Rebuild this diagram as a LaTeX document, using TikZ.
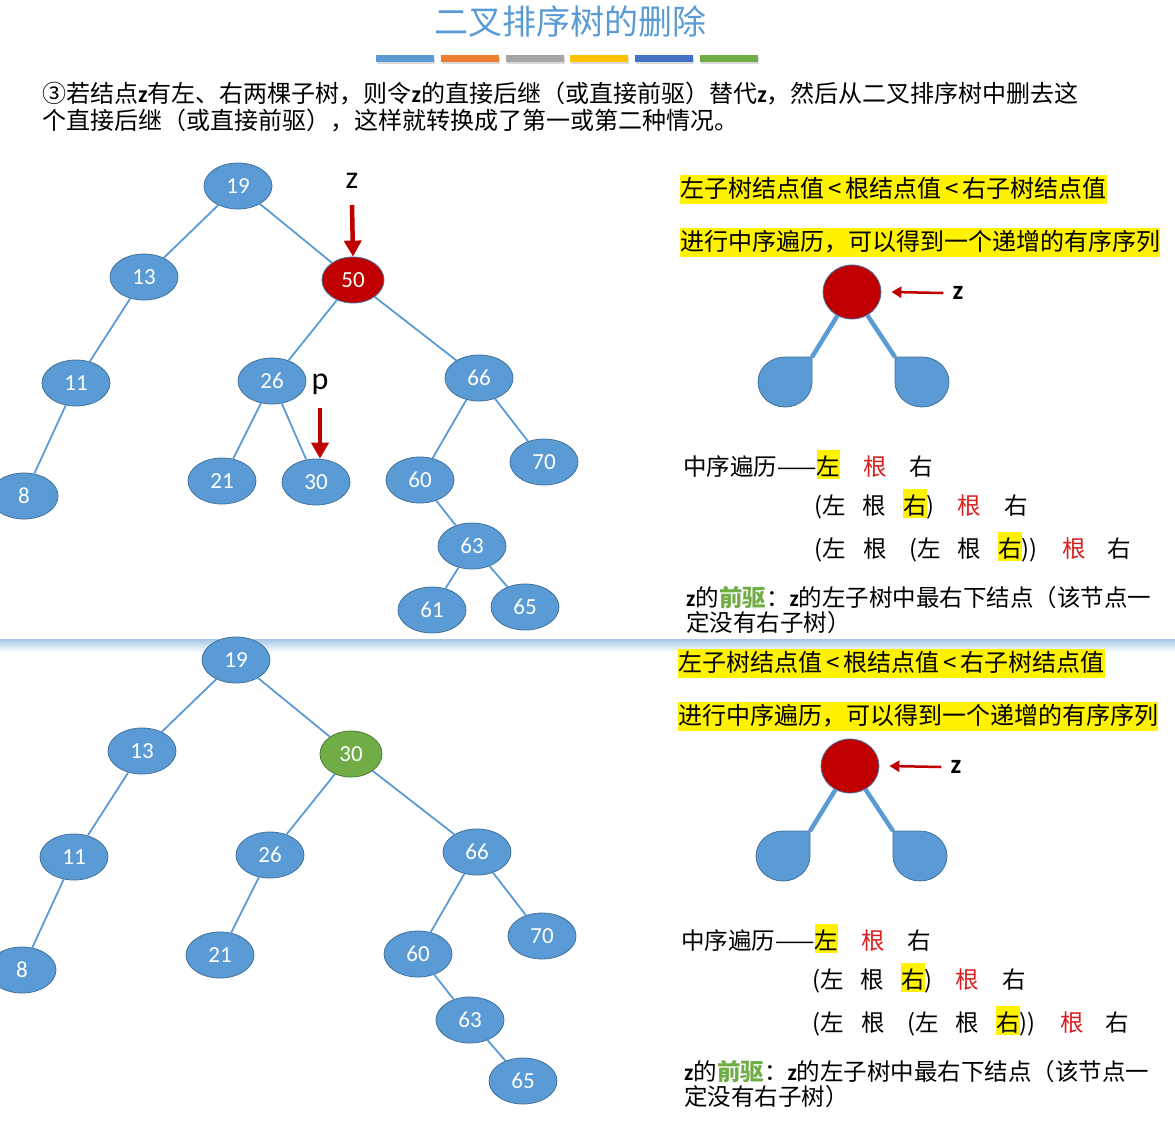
\documentclass[tikz,border=0pt]{standalone}
\usepackage{fontspec}
\setmainfont{Noto Sans CJK SC}
\newfontfamily\lat{Carlito}
\usetikzlibrary{positioning, arrows.meta, shapes.geometric, shadows}

\definecolor{nodeblue}{HTML}{5B9BD5}
\definecolor{nodeedge}{HTML}{41719C}
\definecolor{delred}{HTML}{C00000}
\definecolor{succgreen}{HTML}{70AD47}
\definecolor{barorange}{HTML}{ED7D31}
\definecolor{bargray}{HTML}{A5A5A5}
\definecolor{bargold}{HTML}{FFC000}
\definecolor{bardark}{HTML}{4472C4}
\definecolor{rootred}{HTML}{D81E1E}

\newcommand{\bodysize}{\fontsize{23.5}{27}\selectfont}
\newcommand{\marktxt}[1]{{\fboxsep=0pt\colorbox{yellow}{\rule[-4pt]{0pt}{29pt}#1}}}

\tikzset{
  treenode/.style={ellipse, draw=nodeedge, line width=0.8pt, fill=nodeblue,
    minimum width=68pt, minimum height=46pt, inner sep=0pt, text=white,
    font=\lat\fontsize{23}{23}\selectfont},
  delnode/.style={treenode, fill=delred, minimum width=62pt},
  succnode/.style={treenode, fill=succgreen, draw=succgreen!70!black, minimum width=62pt},
  branch/.style={nodeblue, line width=1.8pt},
  pointer/.style={delred, line width=4.5pt, -{Triangle[width=17pt,length=16pt]}},
  zpointer/.style={delred, line width=2.5pt, -{Triangle[width=11pt,length=10pt]}},
  hlband/.style={fill=yellow, inner sep=0pt, text height=22pt, text depth=7pt,
    font=\fontsize{24}{28}\selectfont},
  walktext/.style={anchor=base west, inner sep=0pt, font=\bodysize},
  marklbl/.style={font=\lat\fontsize{32}{32}\selectfont, inner sep=0pt},
  stem/.style={nodeblue, line width=4.5pt},
  leaf/.style={fill=nodeblue, draw=nodeedge, line width=0.8pt},
}

% right-hand explanation panel, #1 = name prefix
\newcommand{\orderpanel}[1]{%
  \node[hlband, anchor=base west] (#1law) at (680,197)
    {左子树结点值\hspace{4pt}<\hspace{4pt}根结点值\hspace{4pt}<\hspace{4pt}右子树结点值};
  \node[hlband, anchor=base west] (#1walk) at (680,250)
    {进行中序遍历，可以得到一个递增的有序序列};

  \node[ellipse, fill=delred, draw=nodeedge, line width=0.8pt,
    minimum width=58pt, minimum height=54pt] (#1root) at (852,292) {};
  \node[font=\lat\bfseries\fontsize{27}{27}\selectfont, inner sep=0pt] (#1zmark) at (958,293) {z};
  \draw[zpointer] ([xshift=-9pt]#1zmark.west) -- ([xshift=10pt]#1root.east);

  \coordinate (#1lcorner) at (812,357);
  \coordinate (#1rcorner) at (895,357);
  \draw[stem] (#1root) -- (#1lcorner);
  \draw[stem] (#1root) -- (#1rcorner);
  \filldraw[leaf] (#1lcorner) -- (785,357)
    arc[start angle=270, end angle=0, x radius=27, y radius=25] -- cycle;
  \filldraw[leaf] (#1rcorner) -- (922,357)
    arc[start angle=270, end angle=540, x radius=27, y radius=25] -- cycle;

  \node[walktext] (#1line1) at (683,475)
    {中序遍历——\marktxt{左}\hspace{23pt}{\color{rootred}根}\hspace{23pt}右};
  \node[walktext] (#1line2) at (814,514)
    {(左\hspace{17pt}根\hspace{17pt}\marktxt{右})\hspace{23pt}{\color{rootred}根}\hspace{23pt}右};
  \node[walktext] (#1line3) at (814,557)
    {(左\hspace{18pt}根\hspace{22pt}(左\hspace{17pt}根\hspace{17pt}\marktxt{右}))\hspace{25pt}{\color{rootred}根}\hspace{22pt}右};
  \node[walktext] (#1pred) at (686,606)
    {{\lat\bfseries z}的{\bfseries\color{succgreen}前驱}：{\lat\bfseries z}的左子树中最右下结点（该节点一};
  \node[walktext] (#1predb) at (686,631) {定没有右子树）};
}

\begin{document}
\begin{tikzpicture}[x=1pt, y=-1pt]
  \useasboundingbox (0,0) rectangle (1175,1125);

  % header
  \node[font=\fontsize{34}{34}\selectfont, text=nodeblue] (title) at (570,22) {二叉排序树的删除};
  \foreach \c [count=\i from 0] in {nodeblue, barorange, bargray, bargold, bardark, succgreen}
    \fill[\c, drop shadow={shadow xshift=1pt, shadow yshift=-1.5pt, opacity=.3}]
      (376+64.8*\i,55) rectangle ++(58,7);

  \node[anchor=base west, inner sep=0pt, font=\fontsize{24}{27}\selectfont] (case1) at (42,102)
    {③若结点{\lat\bfseries z}有左、右两棵子树，则令{\lat\bfseries z}的直接后继（或直接前驱）替代{\lat\bfseries z}，然后从二叉排序树中删去这};
  \node[anchor=base west, inner sep=0pt, font=\fontsize{24}{27}\selectfont] (case2) at (42,129)
    {个直接后继（或直接前驱），这样就转换成了第一或第二种情况。};

  % tree before deletion
  \node[treenode] (a19) at (238,186) {19};
  \node[treenode] (a13) at (144,277) {13};
  \node[delnode]  (a50) at (353,280) {50};
  \node[treenode] (a11) at (76,383) {11};
  \node[treenode] (a26) at (272,381) {26};
  \node[treenode] (a66) at (479,378) {66};
  \node[treenode] (a8)  at (24,496) {8};
  \node[treenode] (a21) at (222,481) {21};
  \node[treenode] (a30) at (316,482) {30};
  \node[treenode] (a60) at (420,480) {60};
  \node[treenode] (a70) at (544,462) {70};
  \node[treenode] (a63) at (472,546) {63};
  \node[treenode] (a61) at (432,610) {61};
  \node[treenode] (a65) at (525,607) {65};

  \draw[branch] (a19) -- (a13);
  \draw[branch] (a19) -- (a50);
  \draw[branch] (a13) -- (a11);
  \draw[branch] (a11) -- (a8);
  \draw[branch] (a50) -- (a26);
  \draw[branch] (a50) -- (a66);
  \draw[branch] (a26) -- (a21);
  \draw[branch] (a26) -- (a30);
  \draw[branch] (a66) -- (a60);
  \draw[branch] (a66) -- (a70);
  \draw[branch] (a60) -- (a63);
  \draw[branch] (a63) -- (a61);
  \draw[branch] (a63) -- (a65);

  \node[marklbl] (zmark) at (352,181) {z};
  \draw[pointer] (zmark.south |- 0,205) -- (a50.north);
  \node[marklbl] (pmark) at (320,384) {p};
  \draw[pointer] (pmark.south |- 0,408) -- (pmark.south |- a30.north);

  \orderpanel{a}

  % slide break
  \shade[top color=nodeblue!55, bottom color=white] (0,639) rectangle (1175,652);

  % tree after deletion
  \begin{scope}[shift={(-2,474)}]
    \node[treenode] (b19) at (238,186) {19};
    \node[treenode] (b13) at (144,277) {13};
    \node[succnode] (b30) at (353,280) {30};
    \node[treenode] (b11) at (76,383) {11};
    \node[treenode] (b26) at (272,381) {26};
    \node[treenode] (b66) at (479,378) {66};
    \node[treenode] (b8)  at (24,496) {8};
    \node[treenode] (b21) at (222,481) {21};
    \node[treenode] (b60) at (420,480) {60};
    \node[treenode] (b70) at (544,462) {70};
    \node[treenode] (b63) at (472,546) {63};
    \node[treenode] (b65) at (525,607) {65};

    \draw[branch] (b19) -- (b13);
    \draw[branch] (b19) -- (b30);
    \draw[branch] (b13) -- (b11);
    \draw[branch] (b11) -- (b8);
    \draw[branch] (b30) -- (b26);
    \draw[branch] (b30) -- (b66);
    \draw[branch] (b26) -- (b21);
    \draw[branch] (b66) -- (b60);
    \draw[branch] (b66) -- (b70);
    \draw[branch] (b60) -- (b63);
    \draw[branch] (b63) -- (b65);

    \orderpanel{b}
  \end{scope}
\end{tikzpicture}
\end{document}
